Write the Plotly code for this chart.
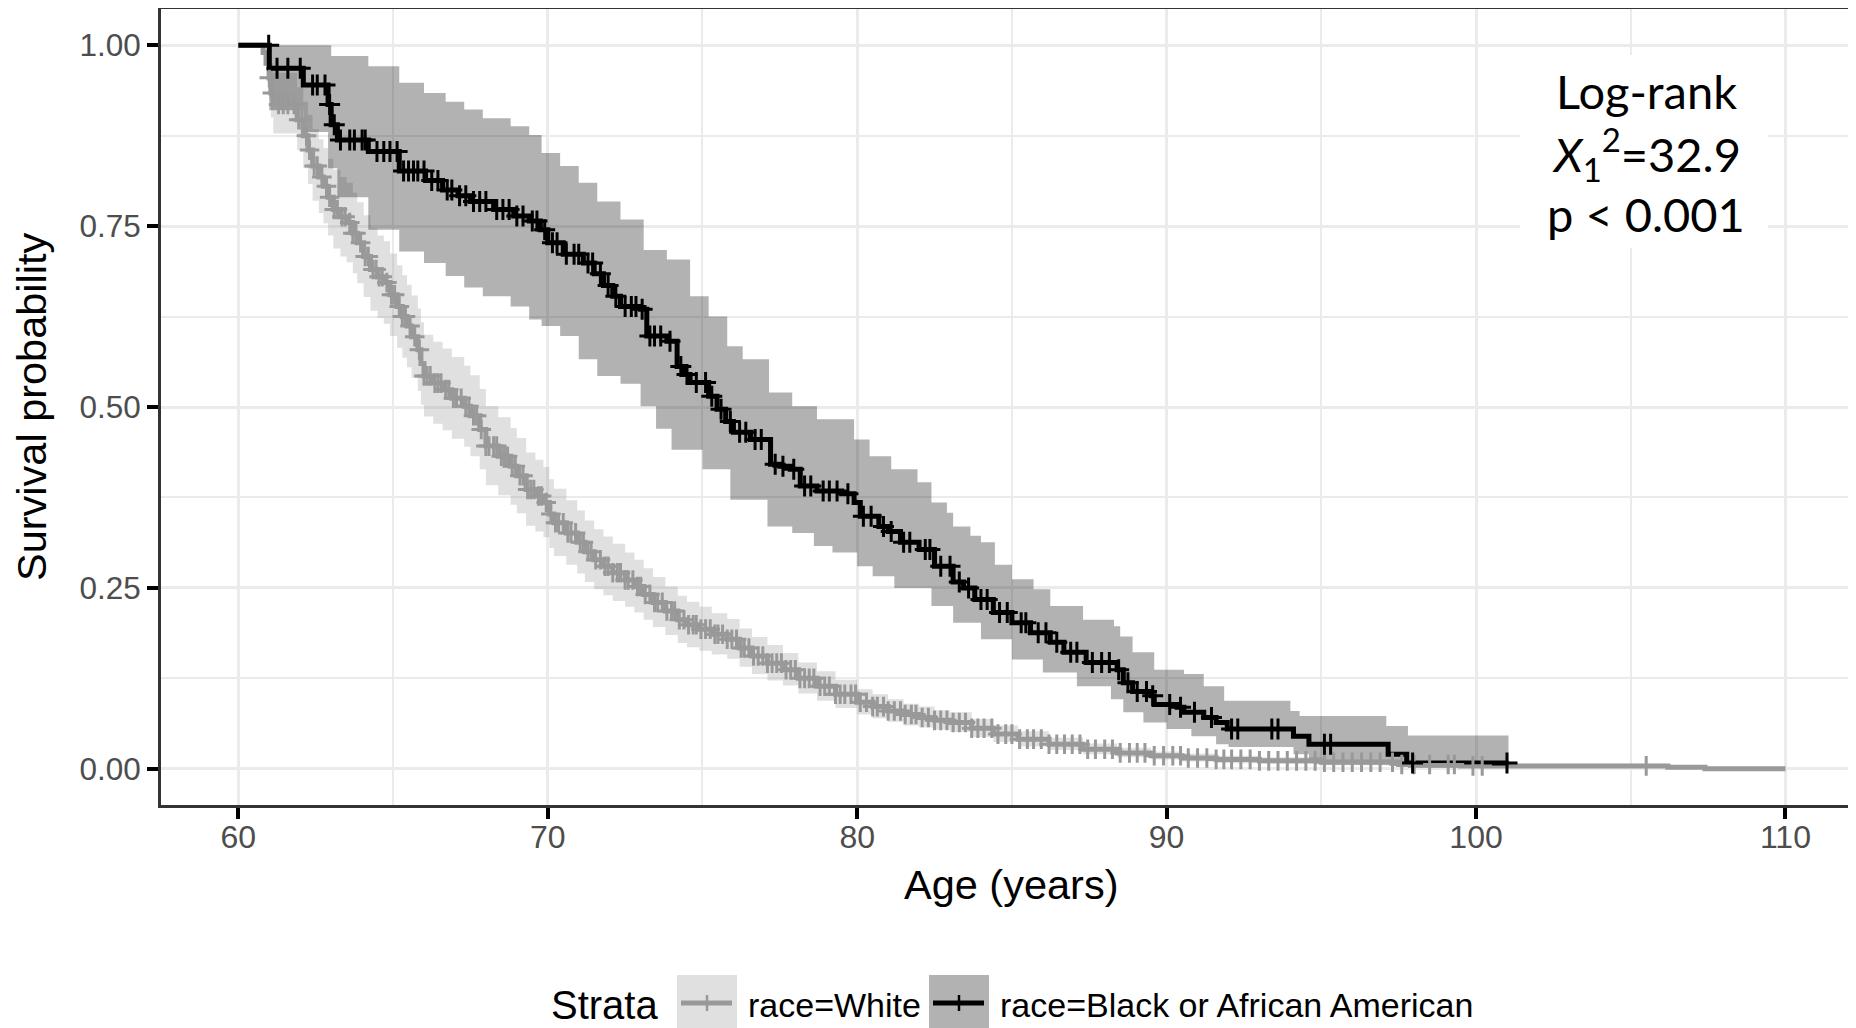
import numpy as np
import plotly.graph_objects as go

# ---------------- data ----------------
# White strata: step times and survival after each time, with CI bounds
white_t = [60.0, 60.8, 60.9, 61.0, 61.05, 61.13, 61.9, 62.1, 62.25, 62.4, 62.6, 62.75, 62.9,
           63.07, 63.3, 63.5, 63.7, 63.84, 64.05, 64.27, 64.5, 64.7, 64.9, 65.13, 65.3, 65.45,
           65.6, 65.8, 65.9, 66.0, 66.3, 66.6, 66.9, 67.3, 67.5, 67.8, 68.0, 68.4, 68.8, 69.0,
           69.3, 69.6, 69.86, 70.05, 70.2, 70.6, 70.95, 71.2, 71.5, 71.8, 72.1, 72.5, 72.8,
           73.1, 73.4, 73.8, 74.2, 74.5, 74.9, 75.3, 75.8, 76.2, 76.6, 77.1, 77.6, 78.1, 78.7,
           79.3, 80.0, 80.5, 81.0, 81.5, 82.0, 82.5, 83.0, 83.7, 84.4, 85.2, 86.2, 87.3, 88.4,
           89.5, 90.5, 91.6, 93.0, 95.0, 97.5, 99.5, 106.2, 107.4]
white_s = [1.0, 0.99, 0.975, 0.955, 0.934, 0.918, 0.897, 0.875, 0.855, 0.833, 0.818, 0.805, 0.79,
           0.773, 0.763, 0.755, 0.74, 0.727, 0.708, 0.69, 0.68, 0.672, 0.655, 0.639, 0.625, 0.612,
           0.597, 0.579, 0.56, 0.543, 0.533, 0.524, 0.512, 0.501, 0.488, 0.469, 0.446, 0.432, 0.418, 0.405,
           0.386, 0.377, 0.368, 0.352, 0.340, 0.326, 0.313, 0.300, 0.289, 0.280, 0.271, 0.261, 0.252,
           0.241, 0.230, 0.218, 0.206, 0.199, 0.193, 0.186, 0.179, 0.167, 0.156, 0.146, 0.137, 0.125, 0.114,
           0.103, 0.092, 0.086, 0.080, 0.075, 0.071, 0.067, 0.064, 0.056, 0.048, 0.041, 0.034, 0.027, 0.022,
           0.018, 0.015, 0.013, 0.011, 0.009, 0.006, 0.004, 0.002, 0.0]
white_up = [1.0, 1.0, 0.998, 0.99, 0.975, 0.962, 0.942, 0.922, 0.904, 0.884, 0.870, 0.858, 0.843,
            0.828, 0.818, 0.810, 0.796, 0.783, 0.765, 0.747, 0.737, 0.729, 0.712, 0.696, 0.682, 0.669,
            0.654, 0.636, 0.617, 0.600, 0.590, 0.581, 0.569, 0.557, 0.544, 0.525, 0.501, 0.486, 0.471, 0.457,
            0.437, 0.427, 0.417, 0.400, 0.387, 0.371, 0.357, 0.343, 0.331, 0.321, 0.311, 0.299, 0.289,
            0.277, 0.265, 0.252, 0.239, 0.231, 0.224, 0.215, 0.207, 0.194, 0.182, 0.171, 0.160, 0.147, 0.135,
            0.123, 0.110, 0.103, 0.096, 0.090, 0.086, 0.081, 0.078, 0.069, 0.060, 0.052, 0.043, 0.035, 0.029,
            0.024, 0.021, 0.018, 0.016, 0.013, 0.009, 0.007, 0.004, 0.0]
white_lo = [1.0, 0.972, 0.950, 0.925, 0.900, 0.878, 0.855, 0.830, 0.808, 0.785, 0.768, 0.754, 0.737,
            0.719, 0.708, 0.700, 0.685, 0.671, 0.652, 0.633, 0.623, 0.615, 0.598, 0.582, 0.568, 0.555,
            0.540, 0.522, 0.503, 0.487, 0.477, 0.468, 0.456, 0.445, 0.432, 0.414, 0.392, 0.378, 0.365, 0.353,
            0.336, 0.328, 0.320, 0.305, 0.294, 0.282, 0.270, 0.258, 0.248, 0.240, 0.232, 0.224, 0.216,
            0.206, 0.196, 0.185, 0.174, 0.168, 0.163, 0.158, 0.152, 0.141, 0.131, 0.122, 0.115, 0.104, 0.094,
            0.084, 0.075, 0.070, 0.065, 0.060, 0.057, 0.054, 0.051, 0.044, 0.037, 0.031, 0.026, 0.020, 0.016,
            0.013, 0.010, 0.008, 0.007, 0.005, 0.003, 0.002, 0.001, 0.0]
white_end = 110.0
white_censor = [61.0, 61.1, 61.3, 61.45, 61.6, 61.8, 61.95, 62.05, 62.2, 62.3, 62.45, 62.55, 62.7,
                62.85, 62.95, 63.1, 63.2, 63.35, 63.45, 63.6, 63.7, 63.8, 63.95, 64.1, 64.2, 64.35,
                64.45, 64.55, 64.65, 64.8, 64.95, 65.05, 65.2, 65.3, 65.4, 65.55, 65.7, 65.85, 66.0,
                66.1, 66.2, 66.35, 66.45, 66.55, 66.7, 66.8, 66.95, 67.05, 67.2, 67.35, 67.45, 67.6,
                67.7, 67.85, 68.0, 68.1, 68.25, 68.35, 68.5, 68.6, 68.7, 68.85, 68.95, 69.1, 69.2,
                69.35, 69.45, 69.55, 69.7, 69.8, 69.95, 70.1, 70.25, 70.35, 70.5, 70.65, 70.75, 70.9,
                71.05, 71.15, 71.3, 71.4, 71.55, 71.7, 71.85, 71.95, 72.1, 72.25, 72.35, 72.5, 72.6,
                72.75, 72.9, 73.0, 73.15, 73.3, 73.45, 73.55, 73.7, 73.85, 74.0, 74.1, 74.25, 74.4,
                74.55, 74.7, 74.8, 74.95, 75.1, 75.25, 75.4, 75.5, 75.65, 75.8, 75.95, 76.1, 76.25,
                76.35, 76.5, 76.65, 76.8, 76.95, 77.1, 77.25, 77.4, 77.55, 77.7, 77.85, 78.0, 78.15,
                78.3, 78.45, 78.6, 78.8, 78.95, 79.1, 79.3, 79.45, 79.6, 79.8, 79.95, 80.1, 80.3,
                80.5, 80.65, 80.85, 81.0, 81.2, 81.4, 81.55, 81.75, 81.9, 82.1, 82.3, 82.5, 82.7,
                82.9, 83.1, 83.3, 83.5, 83.7, 83.9, 84.1, 84.35, 84.55, 84.8, 85.0, 85.25, 85.5,
                85.7, 85.95, 86.2, 86.45, 86.7, 86.95, 87.2, 87.45, 87.7, 88.0, 88.25, 88.5, 88.8,
                89.05, 89.3, 89.6, 89.9, 90.2, 90.45, 90.7, 91.0, 91.3, 91.6, 91.85, 92.1, 92.4,
                92.7, 93.0, 93.3, 93.6, 93.9, 94.2, 94.5, 94.8, 95.1, 95.4, 95.7, 96.0, 96.3, 96.6,
                96.9, 97.3, 97.6, 98.0, 98.5, 99.1, 99.3, 99.9, 100.2, 105.5]

# Black or African American strata
black_t = [60.0, 61.0, 62.1, 62.9, 63.0, 63.2, 64.2, 65.2, 66.05, 66.6, 67.1, 67.5, 68.25, 68.9,
           69.4, 69.76, 70.0, 70.5, 71.15, 71.5, 71.8, 72.1, 72.35, 73.0, 73.2, 73.85, 74.18, 74.4,
           74.6, 75.2, 75.47, 75.75, 76.0, 76.55, 77.2, 77.5, 77.84, 78.16, 78.7, 79.5, 79.9, 80.1,
           80.7, 81.0, 81.4, 82.0, 82.5, 83.1, 83.44, 83.8, 84.4, 85.0, 85.6, 86.24, 86.68, 87.4,
           88.4, 88.6, 88.9, 89.5, 89.6, 90.34, 90.56, 91.2, 91.6, 91.96, 94.1, 94.6, 97.16, 97.76]
black_s = [1.0, 0.968, 0.945, 0.918, 0.89, 0.869, 0.853, 0.826, 0.813, 0.800, 0.792, 0.784, 0.773, 0.764,
           0.757, 0.745, 0.727, 0.711, 0.699, 0.684, 0.668, 0.653, 0.639, 0.635, 0.598, 0.591, 0.556, 0.545,
           0.534, 0.515, 0.497, 0.480, 0.465, 0.455, 0.421, 0.418, 0.414, 0.391, 0.384, 0.380, 0.368, 0.349,
           0.335, 0.328, 0.313, 0.303, 0.280, 0.258, 0.250, 0.234, 0.216, 0.202, 0.188, 0.175, 0.161, 0.147,
           0.137, 0.119, 0.107, 0.101, 0.089, 0.085, 0.078, 0.071, 0.064, 0.055, 0.045, 0.034, 0.020, 0.008]
black_end = 101.05
black_up_t = [61.0, 63.0, 64.2, 65.2, 66.0, 66.7, 67.3, 67.9, 68.8, 69.4, 69.8, 70.4, 71.0, 71.6,
              72.35, 73.1, 73.85, 74.6, 75.2, 75.8, 76.3, 77.15, 77.9, 78.7, 79.9, 80.4, 81.1, 81.95,
              82.4, 82.9, 83.1, 83.66, 84.0, 84.45, 85.0, 85.7, 86.24, 87.3, 88.3, 88.5, 88.9, 89.6,
              90.56, 91.2, 91.86, 94.0, 94.3, 97.1, 97.8]
black_up = [1.0, 0.985, 0.971, 0.948, 0.934, 0.922, 0.911, 0.899, 0.888, 0.876, 0.851, 0.833, 0.810, 0.784,
            0.759, 0.717, 0.704, 0.653, 0.625, 0.584, 0.566, 0.520, 0.501, 0.483, 0.455, 0.432, 0.414, 0.396,
            0.368, 0.354, 0.335, 0.322, 0.313, 0.282, 0.262, 0.248, 0.225, 0.206, 0.197, 0.183, 0.161, 0.137,
            0.131, 0.114, 0.094, 0.080, 0.073, 0.059, 0.046]
black_lo_t = [61.0, 62.1, 62.9, 63.2, 64.2, 65.2, 66.0, 66.7, 67.3, 67.9, 68.8, 69.4, 69.8, 70.4,
              71.0, 71.6, 72.35, 73.0, 73.5, 74.0, 75.0, 75.9, 77.1, 77.9, 78.6, 79.2, 80.0, 80.5,
              81.2, 82.4, 83.1, 84.0, 85.0, 86.0, 87.1, 88.2, 88.6, 89.25, 90.0, 90.8, 91.6, 92.0,
              94.1, 94.6, 97.2, 97.8]
black_lo = [0.91, 0.88, 0.83, 0.79, 0.745, 0.715, 0.699, 0.681, 0.665, 0.653, 0.639, 0.621, 0.612, 0.598,
            0.566, 0.543, 0.532, 0.501, 0.470, 0.441, 0.414, 0.372, 0.335, 0.326, 0.308, 0.299, 0.280, 0.266,
            0.250, 0.225, 0.202, 0.179, 0.151, 0.133, 0.114, 0.096, 0.078, 0.064, 0.055, 0.045, 0.034, 0.030,
            0.020, 0.012, 0.004, 0.001]
black_censor = [60.98, 61.25, 61.6, 62.0, 62.4, 62.55, 62.8, 62.95, 63.1, 63.3, 63.6, 63.75, 64.0, 64.1,
                64.48, 64.7, 64.9, 65.13, 65.34, 65.5, 65.66, 65.8, 66.0, 66.25, 66.45, 66.75, 66.9,
                67.15, 67.35, 67.6, 67.8, 68.0, 68.35, 68.55, 68.75, 69.0, 69.2, 69.5, 69.65, 69.9,
                70.15, 70.3, 70.6, 70.85, 71.0, 71.3, 71.45, 71.7, 71.95, 72.2, 72.5, 72.7, 72.85,
                73.05, 73.3, 73.45, 73.65, 73.95, 74.3, 74.5, 74.8, 75.1, 75.3, 75.6, 75.9, 76.2,
                76.4, 76.7, 76.9, 77.35, 77.6, 77.95, 78.3, 78.5, 78.9, 79.1, 79.35, 79.7, 80.2,
                80.45, 80.85, 81.1, 81.5, 81.7, 82.2, 82.35, 82.7, 83.0, 83.3, 83.6, 84.0, 84.2,
                84.6, 84.85, 85.3, 85.45, 85.85, 86.1, 86.45, 86.9, 87.1, 87.6, 87.9, 88.15, 88.45,
                88.75, 89.05, 89.35, 89.55, 90.1, 90.45, 90.9, 91.45, 92.1, 92.3, 93.4, 93.6, 95.1,
                95.3, 97.95, 101.0]

x_ticks = [60, 70, 80, 90, 100, 110]
y_ticks = [0.0, 0.25, 0.5, 0.75, 1.0]
strata_names = ["race=White", "race=Black or African American"]

# ---------------- helpers ----------------
def step_path(t, v, t_end):
    xs, ys = [], []
    for i in range(len(t)):
        nxt = t[i + 1] if i + 1 < len(t) else t_end
        xs += [t[i], nxt]
        ys += [v[i], v[i]]
    return xs, ys

def ribbon(tu, vu, tl, vl, t_end):
    ux, uy = step_path(tu, vu, t_end)
    lx, ly = step_path(tl, vl, t_end)
    return ux + lx[::-1], uy + ly[::-1]

def surv_at(t, v, times):
    idx = np.searchsorted(np.array(t), np.array(times), side="right") - 1
    return [v[i] for i in idx]

WHITE_LINE = "#999999"
BLACK_LINE = "#000000"

fig = go.Figure()

# confidence ribbons
rx, ry = ribbon(white_t, white_up, white_t, white_lo, white_end)
fig.add_trace(go.Scatter(x=rx, y=ry, fill="toself", fillcolor="rgba(153,153,153,0.3)",
                         line=dict(width=0), mode="lines", hoverinfo="skip", showlegend=False))
rx, ry = ribbon(black_up_t, black_up, black_lo_t, black_lo, black_end)
fig.add_trace(go.Scatter(x=rx, y=ry, fill="toself", fillcolor="rgba(0,0,0,0.3)",
                         line=dict(width=0), mode="lines", hoverinfo="skip", showlegend=False))

# survival curves
fig.add_trace(go.Scatter(x=white_t + [white_end], y=white_s + [white_s[-1]], mode="lines",
                         line=dict(color=WHITE_LINE, width=5, shape="hv"),
                         name=strata_names[0], showlegend=False))
fig.add_trace(go.Scatter(x=black_t + [black_end], y=black_s + [black_s[-1]], mode="lines",
                         line=dict(color=BLACK_LINE, width=5, shape="hv"),
                         name=strata_names[1], showlegend=False))

# censor marks
fig.add_trace(go.Scatter(x=white_censor, y=surv_at(white_t, white_s, white_censor), mode="markers",
                         marker=dict(symbol="cross-thin", size=14, line=dict(color=WHITE_LINE, width=3)),
                         showlegend=False, hoverinfo="skip"))
fig.add_trace(go.Scatter(x=black_censor, y=surv_at(black_t, black_s, black_censor), mode="markers",
                         marker=dict(symbol="cross-thin", size=15, line=dict(color=BLACK_LINE, width=3)),
                         showlegend=False, hoverinfo="skip"))

# ---------------- layout ----------------
# the page body has an 8px margin, so the figure is drawn 8px right/down of the window origin
OFF = 8
W, H = 1856 - OFF, 1028 - OFF
REF_L, REF_T, REF_B, REF_R = 161, 9, 805, 1856      # plot area in reference pixels
L, T = REF_L - OFF, REF_T - OFF
B = H - (REF_B - OFF)
R = W - (REF_R - OFF)
PW, PH = W - L - R, H - T - B

def px(X):
    return (X - REF_L) / PW

def py(Y):
    return (REF_B - Y) / PH

AX_FONT = "Liberation Sans, Arial, sans-serif"

fig.update_layout(
    template="none",
    width=W, height=H, autosize=False,
    margin=dict(l=L, r=R, t=T, b=B, pad=0, autoexpand=False),
    paper_bgcolor="white", plot_bgcolor="white",
    showlegend=False,
    xaxis=dict(range=[57.5, 112.28], tickvals=x_ticks, ticks="outside", ticklen=11, tickwidth=3.5,
               automargin=False, ticklabelstandoff=-9,
               tickcolor="#000000", showline=True, linecolor="#333333", linewidth=2.6, mirror=True,
               showgrid=True, gridcolor="#EBEBEB", gridwidth=3.2, zeroline=False,
               minor=dict(dtick=5, tick0=55, showgrid=True, gridcolor="#EBEBEB", gridwidth=1.6, ticks=""),
               tickfont=dict(family=AX_FONT, size=32, color="#4D4D4D")),
    yaxis=dict(range=[-0.05, 1.05], tickvals=y_ticks, tickformat=".2f", ticks="outside", ticklen=11,
               automargin=False,
               tickwidth=3.5, tickcolor="#000000", showline=True, linecolor="#333333", linewidth=2.6,
               mirror=False, showgrid=True, gridcolor="#EBEBEB", gridwidth=3.2, zeroline=False,
               minor=dict(dtick=0.25, tick0=0.125, showgrid=True, gridcolor="#EBEBEB", gridwidth=1.6, ticks=""),
               tickfont=dict(family=AX_FONT, size=31.5, color="#4D4D4D")),
)

shapes = []
annotations = []

# axis titles
annotations.append(dict(xref="paper", yref="paper", x=px(1012), y=py(884), text="Age (years)",
                        showarrow=False, xanchor="center", yanchor="middle",
                        font=dict(family=AX_FONT, size=41.5, color="#000000")))
annotations.append(dict(xref="paper", yref="paper", x=px(31), y=py(407), text="Survival probability",
                        showarrow=False, xanchor="center", yanchor="middle", textangle=-90,
                        font=dict(family=AX_FONT, size=41.5, color="#000000")))

# log-rank box
shapes.append(dict(type="rect", xref="paper", yref="paper", x0=px(1520), x1=px(1768), y0=py(248), y1=py(55),
                   fillcolor="white", line=dict(width=0), layer="above"))
LR_FONT = dict(family="Lato, Carlito, sans-serif", size=47, color="#000000")
for txt, yc in [("Log-rank", 91), ("<i>X</i><sub>1</sub><sup>2</sup>=32.9", 154), ("p < 0.001", 214)]:
    annotations.append(dict(xref="paper", yref="paper", x=px(1646), y=py(yc), text=txt, showarrow=False,
                            xanchor="center", yanchor="middle", font=LR_FONT))

# legend (bottom)
LEG_Y = 1005
annotations.append(dict(xref="paper", yref="paper", x=px(549), y=py(LEG_Y), text="Strata", showarrow=False,
                        xanchor="left", yanchor="middle", font=dict(family=AX_FONT, size=40, color="#000000")))
key_specs = [(677, 737, "rgba(153,153,153,0.3)", WHITE_LINE, strata_names[0]),
             (929, 989, "rgba(0,0,0,0.3)", BLACK_LINE, strata_names[1])]
for x0, x1, fillc, linec, label in key_specs:
    shapes.append(dict(type="rect", xref="paper", yref="paper", x0=px(x0), x1=px(x1), y0=py(1032), y1=py(975),
                       fillcolor=fillc, line=dict(width=0), layer="above"))
    shapes.append(dict(type="line", xref="paper", yref="paper", x0=px(x0 + 4), x1=px(x1 - 5), y0=py(1003),
                       y1=py(1003), line=dict(color=linec, width=5), layer="above"))
    xc = (x0 + x1) / 2
    shapes.append(dict(type="line", xref="paper", yref="paper", x0=px(xc), x1=px(xc), y0=py(995),
                       y1=py(1011), line=dict(color=linec, width=2.5), layer="above"))
    annotations.append(dict(xref="paper", yref="paper", x=px(x1 + 9), y=py(LEG_Y), text=label, showarrow=False,
                            xanchor="left", yanchor="middle", font=dict(family=AX_FONT, size=34, color="#000000")))

fig.update_layout(shapes=shapes, annotations=annotations)
fig.write_html("out.html")
